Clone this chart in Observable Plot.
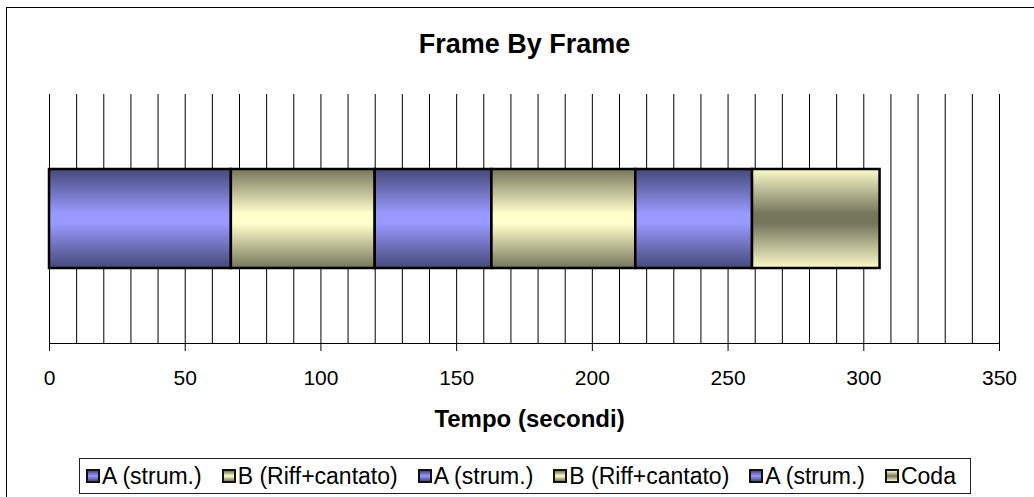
<!DOCTYPE html>
<html>
<head>
<meta charset="utf-8">
<script src="https://cdn.jsdelivr.net/npm/d3@7"></script>
<script src="https://cdn.jsdelivr.net/npm/@observablehq/plot@0.6"></script>
<style>
  html, body { margin: 0; padding: 0; background: #fff; }
  #chart { position: relative; width: 1034px; height: 497px; overflow: hidden; background: #fff;
           font-family: "Liberation Sans", Arial, sans-serif; }
  #frame { position: absolute; left: 6px; top: 7px; width: 1200px; height: 700px;
           border: 1.5px solid #000; box-sizing: border-box; }
  #plot { position: absolute; left: 0; top: 0; }
  #legend { position: absolute; left: 79px; top: 458px; width: 892px; height: 36px;
            border: 1.5px solid #222; box-sizing: border-box; background: #fff;
            display: flex; align-items: center; justify-content: space-between;
            font-size: 23px; color: #000; white-space: nowrap; padding: 0 14px 0 6px; }
  .item { display: flex; align-items: center; }
  .sw { width: 10px; height: 10px; border: 2px solid #111; margin-right: 2px; }
</style>
</head>
<body>
<div id="chart">
  <div id="frame"></div>
  <div id="plot"></div>
  <div id="legend"></div>
</div>
<script>
// Song structure: sections in playing order with their length in seconds
const sections = ["A (strum.)", "B (Riff+cantato)", "A (strum.)", "B (Riff+cantato)", "A (strum.)", "Coda"];
const durations = [67, 53, 43, 53, 43, 47];
const kinds = ["A", "B", "A", "B", "A", "Coda"];

// Axis ticks
const xTicks = [0, 50, 100, 150, 200, 250, 300, 350];
const xMax = 350;
const gridStep = 10;

const title = "Frame By Frame";
const xLabel = "Tempo (secondi)";

// Gradient fill per section kind: edge colour and centre colour
const kindNames = ["A", "B", "Coda"];
const kindGradients = {
  A:    ["#464979", "#9999ff"],
  B:    ["#75755b", "#ffffcc"],
  Coda: ["#fbfbca", "#75755c"]
};
const gradientStops = [[0, 0], [0.45, 1], [0.55, 1], [1, 0]];

const rows = sections.map((s, i) => ({section: s, duration: durations[i], kind: kinds[i], track: "brano"}));
const gridValues = d3.range(0, xMax + 1, gridStep);

const svg = Plot.plot({
  width: 1034,
  height: 440,
  marginLeft: 49,
  marginRight: 35,
  marginTop: 94,
  marginBottom: 97,
  style: {fontFamily: "'Liberation Sans', Arial, sans-serif", background: "transparent", color: "#000"},
  x: {domain: [0, xMax]},
  y: {axis: null, padding: 0.4286},
  color: {type: "ordinal", domain: kindNames, range: kindNames.map(k => `url(#grad-${k})`)},
  marks: [
    Plot.ruleX(gridValues, {stroke: "#000", strokeWidth: 1}),
    Plot.frame({anchor: "bottom", stroke: "#000", strokeWidth: 1}),
    Plot.axisX(xTicks, {tickSize: 8, tickPadding: 19, fontSize: 21, label: null, stroke: "#000"}),
    Plot.barX(rows, Plot.stackX({x: "duration", y: "track", fill: "kind", stroke: "#000", strokeWidth: 2.5})),
    Plot.text([title], {frameAnchor: "top", dy: -42, lineAnchor: "bottom", fontSize: 27, fontWeight: "bold"}),
    Plot.text([xLabel], {frameAnchor: "bottom", dx: 5, dy: 83, lineAnchor: "bottom", fontSize: 24, fontWeight: "bold"})
  ]
});

// Vertical gradients referenced by the bar fills
const defs = d3.select(svg).insert("defs", ":first-child");
for (const k of kindNames) {
  const [edge, centre] = kindGradients[k];
  const g = defs.append("linearGradient").attr("id", `grad-${k}`)
    .attr("x1", 0).attr("y1", 0).attr("x2", 0).attr("y2", 1);
  for (const [off, t] of gradientStops) {
    g.append("stop").attr("offset", off).attr("stop-color", t ? centre : edge);
  }
}
document.getElementById("plot").appendChild(svg);

// Legend: one entry per section, in playing order
const legend = d3.select("#legend");
sections.forEach((s, i) => {
  const [edge, centre] = kindGradients[kinds[i]];
  const item = legend.append("div").attr("class", "item");
  item.append("div").attr("class", "sw")
    .style("background", `linear-gradient(${edge}, ${centre}, ${edge})`);
  item.append("span").text(s);
});
</script>
</body>
</html>
